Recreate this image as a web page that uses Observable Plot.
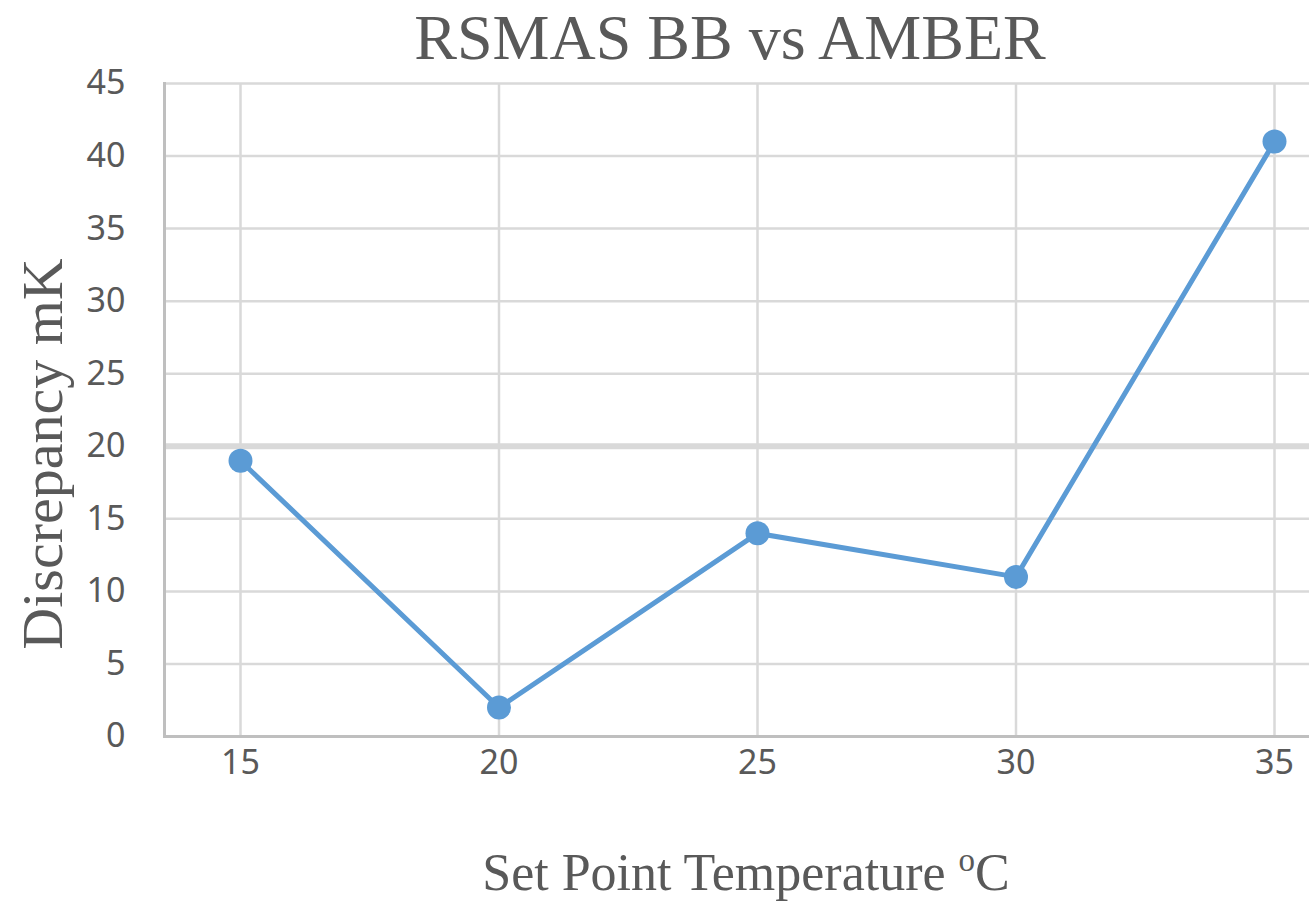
<!DOCTYPE html>
<html>
<head>
<meta charset="utf-8">
<script src="https://cdn.jsdelivr.net/npm/d3@7"></script>
<script src="https://cdn.jsdelivr.net/npm/@observablehq/plot@0.6"></script>
<style>
  html, body { margin: 0; padding: 0; background: #fff; overflow: hidden; }
  svg { display: block; }
</style>
</head>
<body>
<div id="chart"></div>
<script>
// Data
const temperatures = [15, 20, 25, 30, 35];
const discrepancy = [19, 2, 14, 11, 41];
const yTicks = [0, 5, 10, 15, 20, 25, 30, 35, 40, 45];
const titleText = "RSMAS BB vs AMBER";
const yLabelText = "Discrepancy mK";
const xLabelText = "Set Point Temperature ";
const xLabelUnit = "C";

const data = temperatures.map((t, i) => ({t, v: discrepancy[i]}));

const W = 1309, H = 901;
const gridColor = "#d9d9d9";
const lineColor = "#5b9bd5";
const textColor = "#595959";

const plot = Plot.plot({
  width: W,
  height: H,
  marginTop: 83,
  marginBottom: 165,
  marginLeft: 164,
  marginRight: 0,
  style: {background: "#fff", fontFamily: "'Noto Sans', sans-serif"},
  x: {type: "linear", domain: [15, 35], insetLeft: 76, insetRight: 35},
  y: {domain: [0, 45]},
  marks: [
    Plot.ruleY(yTicks.filter(d => d !== 0 && d !== 20), {stroke: gridColor, strokeWidth: 2.5}),
    Plot.ruleY([20], {stroke: gridColor, strokeWidth: 6}),
    Plot.ruleX(temperatures, {y1: 0, y2: 45, stroke: gridColor, strokeWidth: 2.5}),
    Plot.frame({anchor: "left", stroke: "#bfbfbf", strokeWidth: 3}),
    Plot.frame({anchor: "bottom", stroke: "#bfbfbf", strokeWidth: 3}),
    Plot.axisY({ticks: yTicks, tickSize: 0, tickPadding: 39, fontSize: 34, fill: textColor, label: null}),
    Plot.axisX({ticks: temperatures, tickSize: 0, tickPadding: 13, fontSize: 34, fill: textColor, label: null}),
    Plot.line(data, {x: "t", y: "v", stroke: lineColor, strokeWidth: 5}),
    Plot.dot(data, {x: "t", y: "v", r: 12, fill: lineColor, stroke: null})
  ]
});

document.getElementById("chart").appendChild(plot);

const svg = d3.select(plot);
const serif = "'Liberation Serif', 'Times New Roman', serif";

svg.append("text")
  .attr("x", 730).attr("y", 59)
  .attr("text-anchor", "middle")
  .attr("font-family", serif)
  .attr("font-size", 64)
  .attr("fill", textColor)
  .text(titleText);

svg.append("text")
  .attr("transform", "translate(62,454) rotate(-90)")
  .attr("text-anchor", "middle")
  .attr("font-family", serif)
  .attr("font-size", 58)
  .attr("fill", textColor)
  .text(yLabelText);

const xl = svg.append("text")
  .attr("x", 746).attr("y", 890)
  .attr("text-anchor", "middle")
  .attr("font-family", serif)
  .attr("font-size", 52)
  .attr("fill", textColor);
xl.append("tspan").text(xLabelText);
xl.append("tspan").attr("font-size", 33).attr("dy", -19).text("o");
xl.append("tspan").attr("dy", 19).text(xLabelUnit);
</script>
</body>
</html>
